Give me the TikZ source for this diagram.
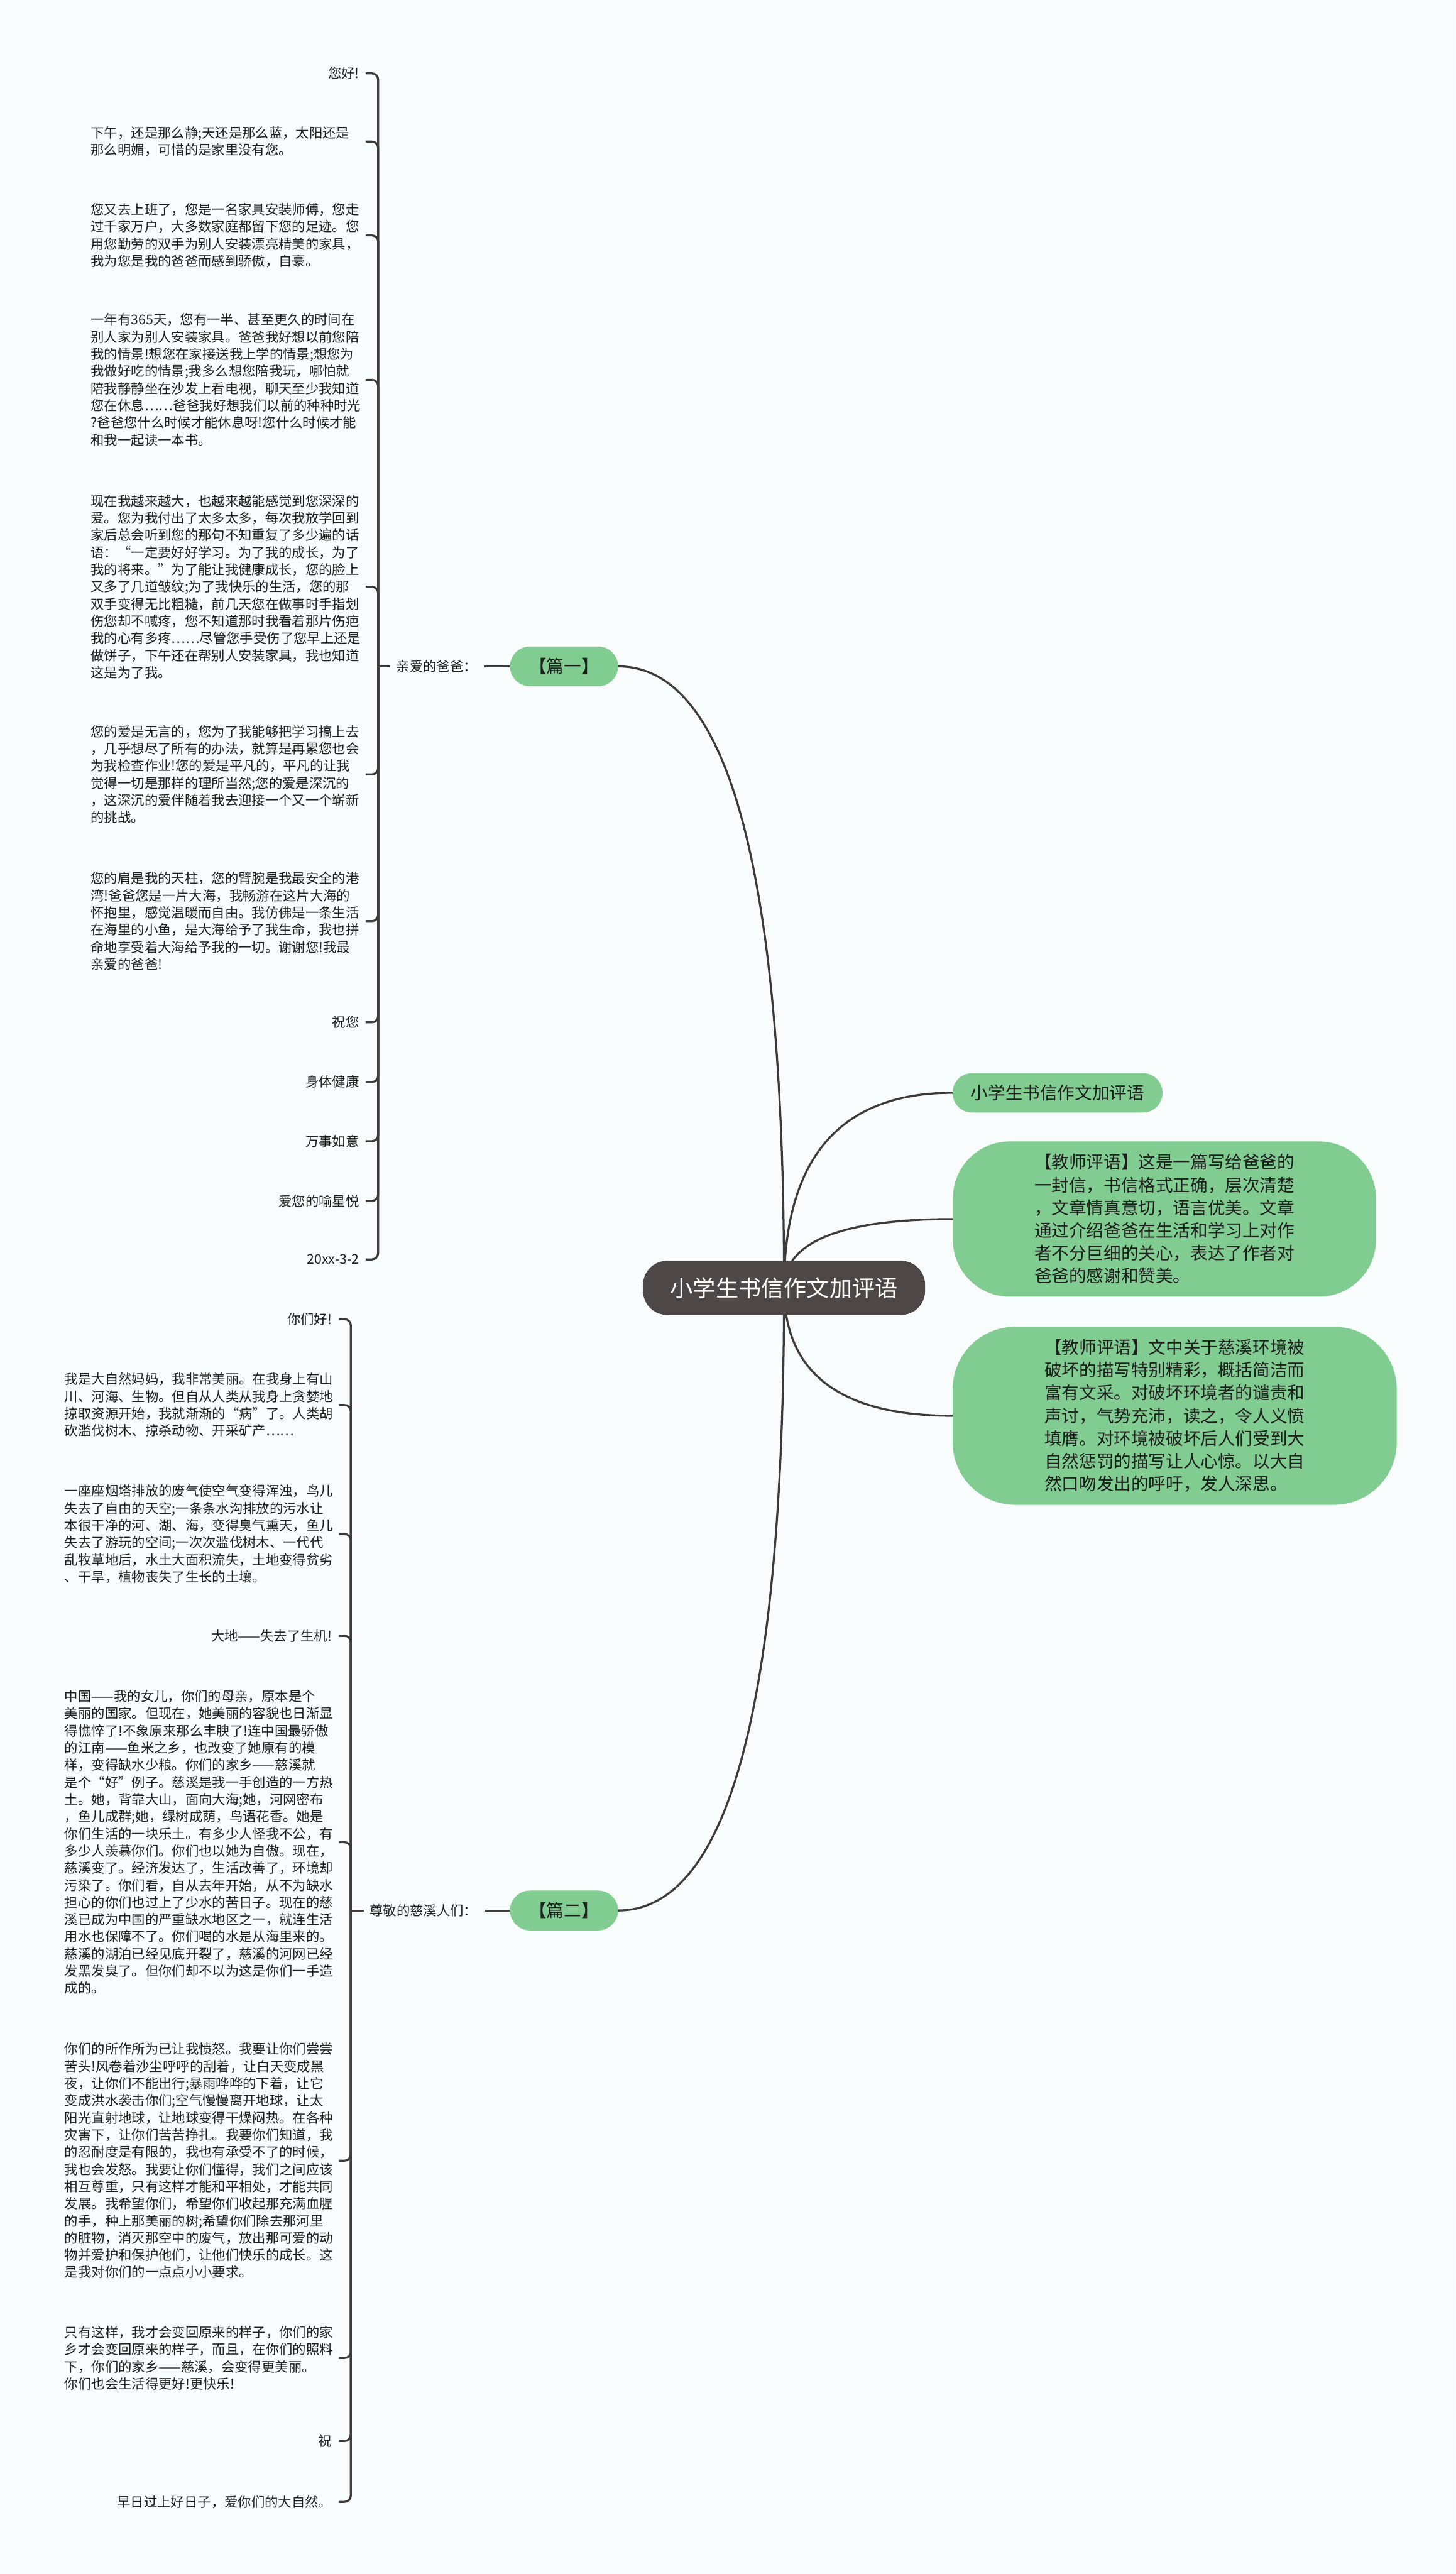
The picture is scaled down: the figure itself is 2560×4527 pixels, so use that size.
\documentclass[tikz,border=0pt]{standalone}
\usepackage{fontspec}
\setmainfont{Noto Sans CJK SC}
\usetikzlibrary{calc}
\pgfdeclarelayer{bg}
\pgfsetlayers{bg,main}
\definecolor{bgc}{RGB}{249,252,252}
\definecolor{linec}{RGB}{62,58,58}
\definecolor{greenc}{RGB}{128,204,145}
\definecolor{darkc}{RGB}{77,71,71}
\definecolor{txtc}{RGB}{30,30,30}
\tikzset{
  leaf/.style={anchor=east, inner sep=0pt, text=txtc, font=\fontsize{23.6}{30.2}\selectfont, align=right},
  paraA/.style={anchor=east, inner sep=0pt, text=txtc, font=\fontsize{23.6}{30.2}\selectfont, text width=472pt, align=left},
  paraB/.style={anchor=east, inner sep=0pt, text=txtc, font=\fontsize{23.6}{30.2}\selectfont, text width=470pt, align=left},
  plabel/.style={anchor=west, inner sep=0pt, text=txtc, font=\fontsize{23.6}{30.2}\selectfont},
  gpill/.style={fill=greenc, draw=none, text=txtc, font=\fontsize{30.5}{40}\selectfont, inner sep=0pt},
  gbig/.style={fill=greenc, draw=none, text=txtc, font=\fontsize{30.5}{40}\selectfont, inner sep=0pt, align=left},
  central/.style={fill=darkc, draw=none, text=white, font=\fontsize{40}{48}\selectfont, inner sep=0pt, minimum width=496pt, minimum height=95pt, rounded corners=42pt},
  busline/.style={draw=linec, line width=3.6pt, rounded corners=11pt},
  conn/.style={draw=linec, line width=3.6pt},
}
\newcommand{\mmcurve}[2]{%
  \coordinate (tmpk) at (#1.#2 -| C.center);
  \draw[conn] (#1.#2) .. controls ($(#1.#2)!0.667!(tmpk)$) and ($(C.center)!0.667!(tmpk)$) .. (C.center);
}
\begin{document}
\begin{tikzpicture}[x=1pt,y=-1pt]
\useasboundingbox (0,0) rectangle (2560,4527);
\begin{pgfonlayer}{bg}
\fill[bgc] (0,0) rectangle (2560,4527);
\end{pgfonlayer}

% central
\node[central] (C) at (1379,2265) {小学生书信作文加评语};

% right nodes
\node[gpill, minimum width=369pt, minimum height=69pt, rounded corners=34pt] (r1) at (1860,1922) {小学生书信作文加评语};
\node[gbig, minimum width=744pt, minimum height=273pt, rounded corners=100pt] (r2) at (2048,2144) {【教师评语】这是一篇写给爸爸的\\一封信，书信格式正确，层次清楚\\，文章情真意切，语言优美。文章\\通过介绍爸爸在生活和学习上对作\\者不分巨细的关心，表达了作者对\\爸爸的感谢和赞美。};
\node[gbig, minimum width=781pt, minimum height=313pt, rounded corners=110pt] (r3) at (2066,2490) {【教师评语】文中关于慈溪环境被\\破坏的描写特别精彩，概括简洁而\\富有文采。对破坏环境者的谴责和\\声讨，气势充沛，读之，令人义愤\\填膺。对环境被破坏后人们受到大\\自然惩罚的描写让人心惊。以大自\\然口吻发出的呼吁，发人深思。};

% left main branches
\node[gpill, minimum width=190pt, minimum height=70pt, rounded corners=35pt] (b1) at (992,1172) {【篇一】};
\node[gpill, minimum width=190pt, minimum height=70pt, rounded corners=35pt] (b2) at (992,3360) {【篇二】};
\node[plabel] (p1) at (697,1172) {亲爱的爸爸：};
\node[plabel] (p2) at (650,3360) {尊敬的慈溪人们：};

% group A
\node[leaf] (a1) at (632,129) {您好!};
\node[paraA] (a2) at (632,249) {下午，还是那么静;天还是那么蓝，太阳还是\\那么明媚，可惜的是家里没有您。};
\node[paraA] (a3) at (632,414) {您又去上班了，您是一名家具安装师傅，您走\\过千家万户，大多数家庭都留下您的足迹。您\\用您勤劳的双手为别人安装漂亮精美的家具，\\我为您是我的爸爸而感到骄傲，自豪。};
\node[paraA] (a4) at (632,668) {一年有365天，您有一半、甚至更久的时间在\\别人家为别人安装家具。爸爸我好想以前您陪\\我的情景!想您在家接送我上学的情景;想您为\\我做好吃的情景;我多么想您陪我玩，哪怕就\\陪我静静坐在沙发上看电视，聊天至少我知道\\您在休息……爸爸我好想我们以前的种种时光\\?爸爸您什么时候才能休息呀!您什么时候才能\\和我一起读一本书。};
\node[paraA] (a5) at (632,1032) {现在我越来越大，也越来越能感觉到您深深的\\爱。您为我付出了太多太多，每次我放学回到\\家后总会听到您的那句不知重复了多少遍的话\\语：“一定要好好学习。为了我的成长，为了\\我的将来。”为了能让我健康成长，您的脸上\\又多了几道皱纹;为了我快乐的生活，您的那\\双手变得无比粗糙，前几天您在做事时手指划\\伤您却不喊疼，您不知道那时我看着那片伤疤\\我的心有多疼……尽管您手受伤了您早上还是\\做饼子，下午还在帮别人安装家具，我也知道\\这是为了我。};
\node[paraA] (a6) at (632,1362) {您的爱是无言的，您为了我能够把学习搞上去\\，几乎想尽了所有的办法，就算是再累您也会\\为我检查作业!您的爱是平凡的，平凡的让我\\觉得一切是那样的理所当然;您的爱是深沉的\\，这深沉的爱伴随着我去迎接一个又一个崭新\\的挑战。};
\node[paraA] (a7) at (632,1620) {您的肩是我的天柱，您的臂腕是我最安全的港\\湾!爸爸您是一片大海，我畅游在这片大海的\\怀抱里，感觉温暖而自由。我仿佛是一条生活\\在海里的小鱼，是大海给予了我生命，我也拼\\命地享受着大海给予我的一切。谢谢您!我最\\亲爱的爸爸!};
\node[leaf] (a8) at (632,1798) {祝您};
\node[leaf] (a9) at (632,1903) {身体健康};
\node[leaf] (a10) at (632,2007) {万事如意};
\node[leaf] (a11) at (632,2112) {爱您的喻星悦};
\node[leaf] (a12) at (632,2215) {20xx-3-2};

% group B
\node[leaf] (c1) at (584,2320) {你们好!};
\node[paraB] (c2) at (584,2471) {我是大自然妈妈，我非常美丽。在我身上有山\\川、河海、生物。但自从人类从我身上贪婪地\\掠取资源开始，我就渐渐的“病”了。人类胡\\砍滥伐树木、掠杀动物、开采矿产……};
\node[paraB] (c3) at (584,2698) {一座座烟塔排放的废气使空气变得浑浊，鸟儿\\失去了自由的天空;一条条水沟排放的污水让\\本很干净的河、湖、海，变得臭气熏天，鱼儿\\失去了游玩的空间;一次次滥伐树木、一代代\\乱牧草地后，水土大面积流失，土地变得贫劣\\、干旱，植物丧失了生长的土壤。};
\node[leaf] (c4) at (584,2877) {大地——失去了生机!};
\node[paraB] (c5) at (584,3240) {中国——我的女儿，你们的母亲，原本是个\\美丽的国家。但现在，她美丽的容貌也日渐显\\得憔悴了!不象原来那么丰腴了!连中国最骄傲\\的江南——鱼米之乡，也改变了她原有的模\\样，变得缺水少粮。你们的家乡——慈溪就\\是个“好”例子。慈溪是我一手创造的一方热\\土。她，背靠大山，面向大海;她，河网密布\\，鱼儿成群;她，绿树成荫，鸟语花香。她是\\你们生活的一块乐土。有多少人怪我不公，有\\多少人羡慕你们。你们也以她为自傲。现在，\\慈溪变了。经济发达了，生活改善了，环境却\\污染了。你们看，自从去年开始，从不为缺水\\担心的你们也过上了少水的苦日子。现在的慈\\溪已成为中国的严重缺水地区之一，就连生活\\用水也保障不了。你们喝的水是从海里来的。\\慈溪的湖泊已经见底开裂了，慈溪的河网已经\\发黑发臭了。但你们却不以为这是你们一手造\\成的。};
\node[paraB] (c6) at (584,3800) {你们的所作所为已让我愤怒。我要让你们尝尝\\苦头!风卷着沙尘呼呼的刮着，让白天变成黑\\夜，让你们不能出行;暴雨哗哗的下着，让它\\变成洪水袭击你们;空气慢慢离开地球，让太\\阳光直射地球，让地球变得干燥闷热。在各种\\灾害下，让你们苦苦挣扎。我要你们知道，我\\的忍耐度是有限的，我也有承受不了的时候，\\我也会发怒。我要让你们懂得，我们之间应该\\相互尊重，只有这样才能和平相处，才能共同\\发展。我希望你们，希望你们收起那充满血腥\\的手，种上那美丽的树;希望你们除去那河里\\的脏物，消灭那空中的废气，放出那可爱的动\\物并爱护和保护他们，让他们快乐的成长。这\\是我对你们的一点点小小要求。};
\node[paraB] (c7) at (584,4147) {只有这样，我才会变回原来的样子，你们的家\\乡才会变回原来的样子，而且，在你们的照料\\下，你们的家乡——慈溪，会变得更美丽。\\你们也会生活得更好!更快乐!};
\node[leaf] (c8) at (584,4293) {祝};
\node[leaf] (c9) at (584,4400) {早日过上好日子，爱你们的大自然。};

\coordinate (busA) at (665,1172);
\coordinate (busB) at (617,3360);

\begin{pgfonlayer}{bg}
\mmcurve{b1}{east}
\mmcurve{b2}{east}
\mmcurve{r1}{west}
\mmcurve{r2}{west}
\mmcurve{r3}{west}
\foreach \c in {a1,a2,a3,a4,a5,a6,a7,a8,a9,a10,a11,a12}{
  \draw[busline] (busA) |- ($(\c.east)+(11,0)$);
}
\foreach \c in {c1,c2,c3,c4,c5,c6,c7,c8,c9}{
  \draw[busline] (busB) |- ($(\c.east)+(12,0)$);
}
\draw[conn] (busA) -- ($(p1.west)+(-11,0)$);
\draw[conn] ($(p1.east)+(13,0)$) -- (b1.west);
\draw[conn] (busB) -- ($(p2.west)+(-10,0)$);
\draw[conn] ($(p2.east)+(14,0)$) -- (b2.west);
\end{pgfonlayer}
\end{tikzpicture}
\end{document}
